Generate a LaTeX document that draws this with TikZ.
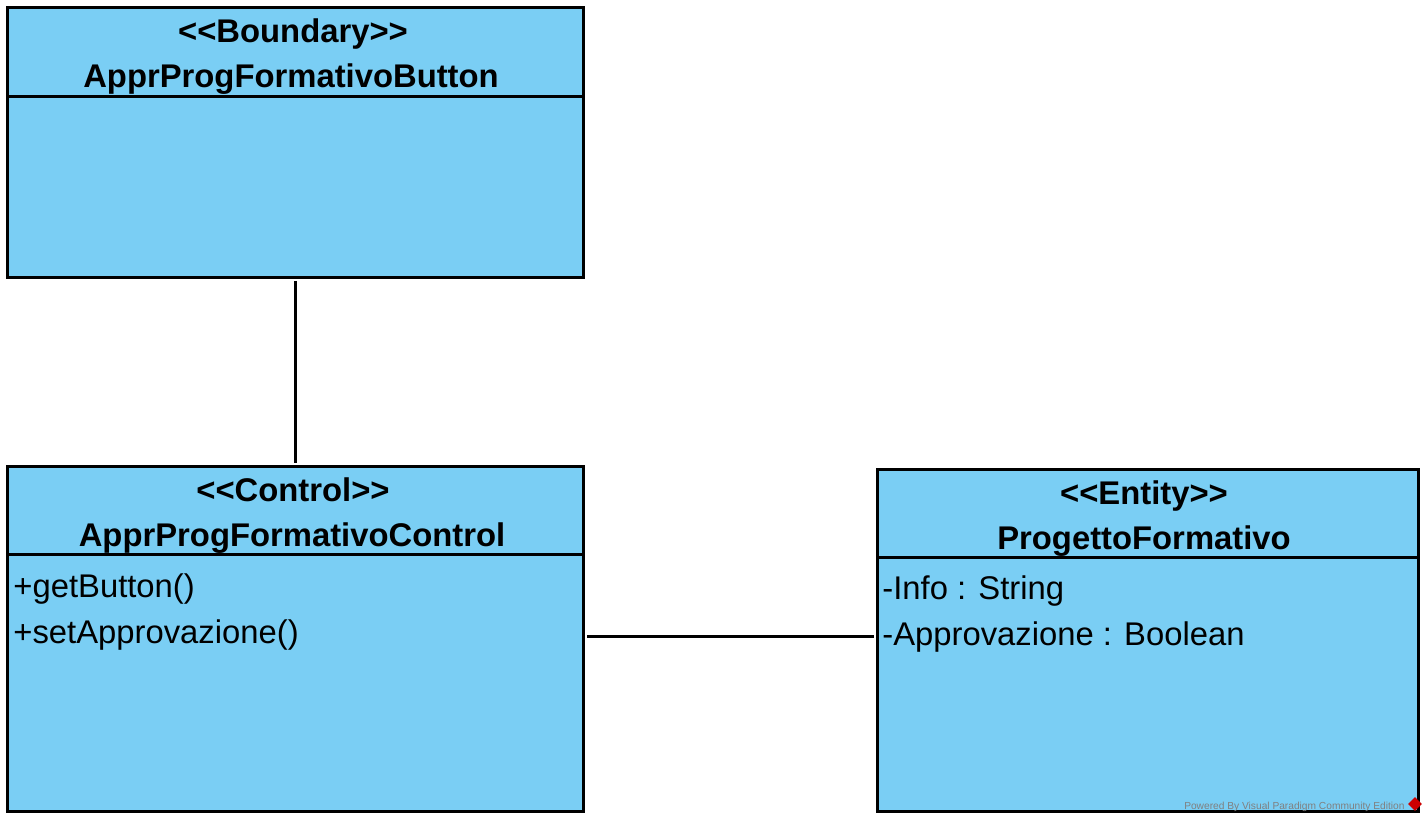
\documentclass[tikz,border=0pt]{standalone}
\usepackage{fontspec}
\setmainfont{Liberation Sans}
\usetikzlibrary{positioning}
\usetikzlibrary{shapes.geometric}
\definecolor{vpblue}{RGB}{122,206,244}

\begin{document}
\begin{tikzpicture}[x = 0.5pt, y = -0.5pt,
    classbox/.style = {draw = black, fill = vpblue, line width = 1.5pt, anchor = north west, inner sep = 0pt},
    headline/.style = {anchor = base, inner sep = 0pt, font = \fontsize{16.4}{20}\selectfont\bfseries},
    member/.style = {anchor = base west, inner sep = 0pt, font = \fontsize{16.4}{20}\selectfont},
    compsep/.style = {line width = 1.5pt},
    assoc/.style = {line width = 1.5pt, shorten >= 1pt, shorten <= 1pt},
    ]
    \useasboundingbox (0,0) rectangle (1428,822);

    \node[classbox, minimum width = 288pt, minimum height = 135pt] (btn) at (6,6) {};
    \node[classbox, minimum width = 288pt, minimum height = 172.5pt] (ctrl) at (6,465) {};
    \node[classbox, minimum width = 270.5pt, minimum height = 171pt] (prog) at (876,468) {};

    \draw[compsep] (6,97) -- (582,97);
    \draw[compsep] (6,555) -- (582,555);
    \draw[compsep] (876,558) -- (1417,558);

    \node[headline] (btnst) at (293,43) {<{}<Boundary>{}>};
    \node[headline] (btnnm) at (291,88) {ApprProgFormativoButton};
    \node[headline] (ctrlst) at (293,502) {<{}<Control>{}>};
    \node[headline] (ctrlnm) at (292,547) {ApprProgFormativoControl};
    \node[headline] (progst) at (1144,505) {<{}<Entity>{}>};
    \node[headline] (prognm) at (1144,550) {ProgettoFormativo};

    \node[member] (getbtn) at (13,597) {+getButton()};
    \node[member] (setappr) at (13,643) {+setApprovazione()};
    \node[member] (info) at (882,600) {-Info : String};
    \node[member] (appr) at (882,646) {-Approvazione : Boolean};

    \coordinate (lnk) at (0,636);
    \draw[assoc] (btn) -- (ctrl);
    \draw[assoc] (ctrl.east |- lnk) -- (prog.west |- lnk);

    \node[anchor = base east, inner sep = 0pt, text = gray, font = \fontsize{5.1}{6}\selectfont] (vpmark) at (1405,809) {Powered By Visual Paradigm Community Edition};
    \node[diamond, fill = red!80!black, minimum size = 7pt, inner sep = 0pt] (vplogo) at (1415,804) {};
\end{tikzpicture}
\end{document}
